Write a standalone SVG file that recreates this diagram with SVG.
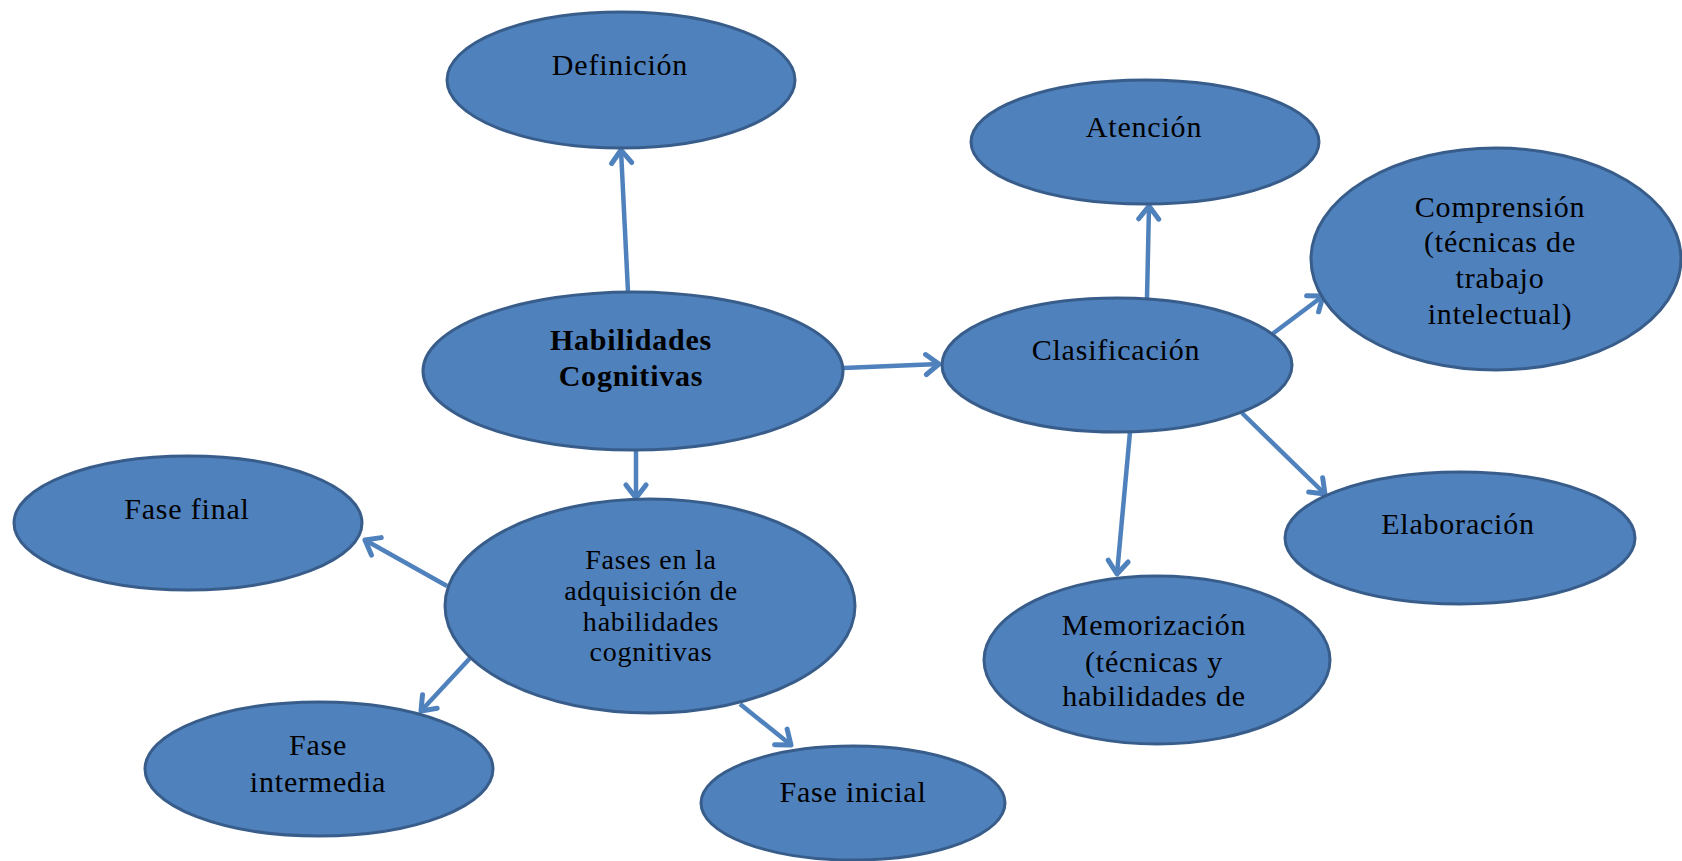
<svg xmlns="http://www.w3.org/2000/svg" width="1682" height="861" viewBox="0 0 1682 861">
<defs>
<style>
.n{fill:#4F81BD;stroke:#385D8A;stroke-width:3}
.t{font-family:"Liberation Serif","Times New Roman",serif;font-size:30px;letter-spacing:0.8px;fill:#000;text-anchor:middle}
.s{font-size:28px}
.b{font-weight:bold}
.c{stroke:#4F81BD;stroke-width:4.5;fill:none;marker-end:url(#ah)}
</style>
<marker id="ah" markerUnits="userSpaceOnUse" markerWidth="26" markerHeight="26" viewBox="0 0 26 26" refX="21" refY="13" orient="auto">
<path d="M8,3 L21,13 L8,23" fill="none" stroke="#4F81BD" stroke-width="5" stroke-linecap="round" stroke-linejoin="round"/>
</marker>
</defs>
<rect width="1682" height="861" fill="#fff"/>
<g id="connectors">
<line class="c" x1="628" y1="292" x2="621" y2="150"/>
<line class="c" x1="843" y1="368" x2="939" y2="364"/>
<line class="c" x1="636" y1="451" x2="636" y2="498"/>
<line class="c" x1="447" y1="586" x2="365" y2="540"/>
<line class="c" x1="472" y1="656" x2="421" y2="711"/>
<line class="c" x1="740" y1="704" x2="791" y2="745"/>
<line class="c" x1="1147" y1="298" x2="1149" y2="206"/>
<line class="c" x1="1271" y1="335" x2="1323" y2="296"/>
<line class="c" x1="1242" y1="413" x2="1325" y2="494"/>
<line class="c" x1="1130" y1="432" x2="1117" y2="574"/>
</g>
<g id="definicion"><ellipse class="n" cx="621" cy="80" rx="174" ry="68"/><text class="t" x="620" y="75">Definición</text></g>
<g id="atencion"><ellipse class="n" cx="1145" cy="142" rx="174" ry="62"/><text class="t" x="1144" y="137">Atención</text></g>
<g id="comprension"><ellipse class="n" cx="1496" cy="259" rx="185" ry="111"/><text class="t" x="1500" y="217">Comprensión</text><text class="t" x="1500" y="252">(técnicas de</text><text class="t" x="1500" y="288">trabajo</text><text class="t" x="1500" y="324">intelectual)</text></g>
<g id="habilidades"><ellipse class="n" cx="633" cy="371" rx="210" ry="79"/><text class="t b" x="631" y="350">Habilidades</text><text class="t b" x="631" y="386">Cognitivas</text></g>
<g id="clasificacion"><ellipse class="n" cx="1117" cy="365" rx="175" ry="67"/><text class="t" x="1116" y="360">Clasificación</text></g>
<g id="fase-final"><ellipse class="n" cx="188" cy="523" rx="174" ry="67"/><text class="t" x="187" y="519">Fase final</text></g>
<g id="fases"><ellipse class="n" cx="650" cy="606" rx="205" ry="107"/><text class="t s" x="651" y="569">Fases en la</text><text class="t s" x="651" y="600">adquisición de</text><text class="t s" x="651" y="631">habilidades</text><text class="t s" x="651" y="661">cognitivas</text></g>
<g id="elaboracion"><ellipse class="n" cx="1460" cy="538" rx="175" ry="66"/><text class="t" x="1458" y="534">Elaboración</text></g>
<g id="memorizacion"><ellipse class="n" cx="1157" cy="660" rx="173" ry="84"/><text class="t" x="1154" y="635">Memorización</text><text class="t" x="1154" y="672">(técnicas y</text><text class="t" x="1154" y="706">habilidades de</text></g>
<g id="fase-intermedia"><ellipse class="n" cx="319" cy="769" rx="174" ry="67"/><text class="t" x="318" y="755">Fase</text><text class="t" x="318" y="792">intermedia</text></g>
<g id="fase-inicial"><ellipse class="n" cx="853" cy="803" rx="152" ry="57"/><text class="t" x="853" y="802">Fase inicial</text></g>
</svg>
